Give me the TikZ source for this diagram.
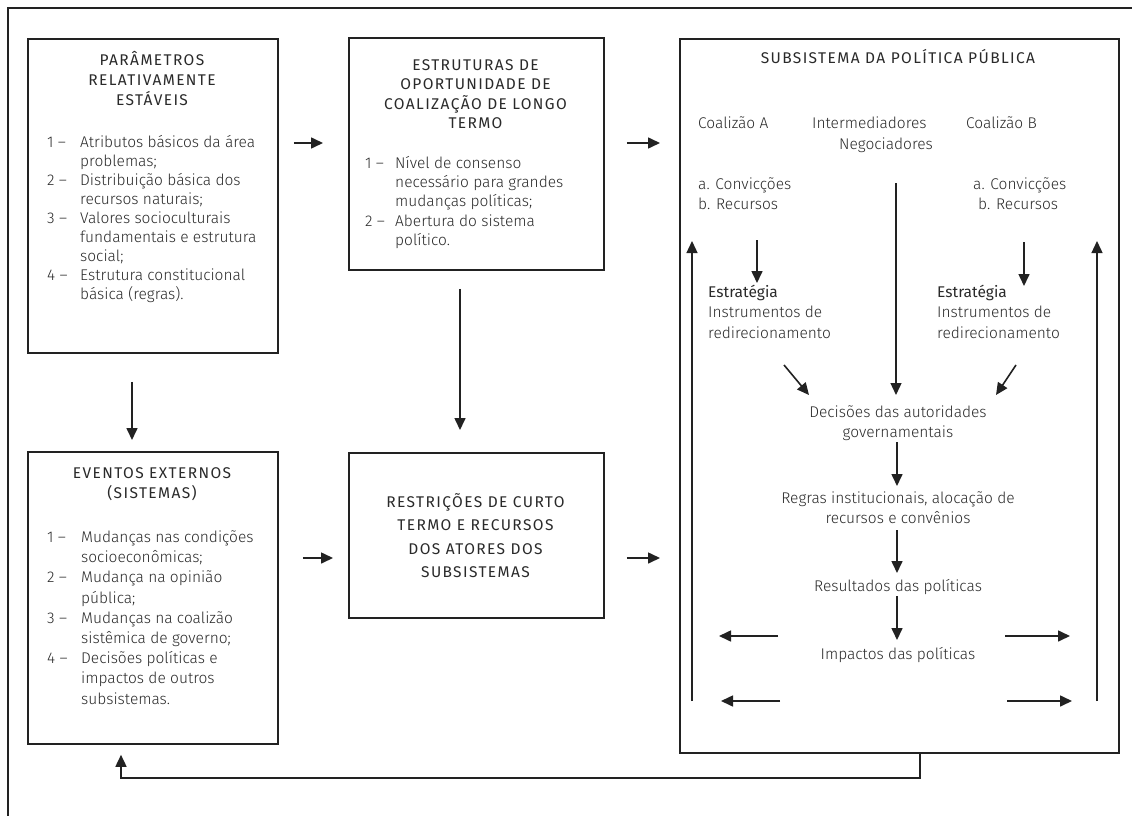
\documentclass[tikz,border=0pt]{standalone}
\usepackage{fontspec}
\usetikzlibrary{arrows.meta,calc}
\IfFontExistsTF{Fira Sans Book}{%
  \IfFontExistsTF{Fira Sans Medium}{\setmainfont{Fira Sans Book}[BoldFont={Fira Sans Medium}]}%
  {\setmainfont{Fira Sans Book}[BoldFont={Fira Sans}]}}%
{\IfFontExistsTF{Fira Sans Light}{\setmainfont{Fira Sans Light}[BoldFont={Fira Sans}]}{\setmainfont{Carlito}}}
\IfFontExistsTF{Fira Sans}{\newfontfamily\capfont{Fira Sans}[LetterSpace=9]}{\newfontfamily\capfont{Carlito}[LetterSpace=9]}
\definecolor{ink}{HTML}{222222}
\definecolor{txtc}{HTML}{2A2A2A}
\newcommand{\fb}[1]{\fontsize{15.5}{#1}\selectfont}
\newcommand{\fc}[1]{\capfont\fontsize{15.5}{#1}\selectfont}
\begin{document}
\begin{tikzpicture}[x=1pt,y=-1pt,
  box/.style={draw=ink, line width=1.8pt, inner sep=0pt, rectangle},
  arr/.style={draw=ink, line width=1.6pt, -{Triangle[length=12pt,width=11pt]}},
  frame/.style={draw=ink, line width=1.4pt},
  tx/.style={inner sep=0pt, text=txtc}]
\useasboundingbox (0,0) rectangle (1132,816);
\fill[white] (0,0) rectangle (1132,816);
\draw[frame] (1132,8) -- (8,8) -- (8,816);

% boxes
\node[box, minimum width=250pt, minimum height=314pt, anchor=north west] (b1) at (27,38) {};
\node[box, minimum width=255pt, minimum height=232pt, anchor=north west] (b2) at (348,37) {};
\node[box, minimum width=439pt, minimum height=714pt, anchor=north west] (b3) at (679,38) {};
\node[box, minimum width=250pt, minimum height=292pt, anchor=north west] (b4) at (27,451) {};
\node[box, minimum width=255pt, minimum height=165pt, anchor=north west] (b5) at (348,452) {};

% box 1
\node[tx, anchor=north] (t1) at (152,51.2) {\fc{20}\begin{tabular}{@{}c@{}}PARÂMETROS\\RELATIVAMENTE\\ESTÁVEIS\end{tabular}};
\node[tx, anchor=north west] (l1) at (47,133.9) {\fb{19}\begin{tabular}{@{}p{33pt}@{}l@{}}1 –&Atributos básicos da área\\&problemas;\\2 –&Distribuição básica dos\\&recursos naturais;\\3 –&Valores socioculturais\\&fundamentais e estrutura\\&social;\\4 –&Estrutura constitucional\\&básica (regras).\end{tabular}};

% box 2
\node[tx, anchor=north] (t2) at (475.5,56.9) {\fc{19}\begin{tabular}{@{}c@{}}ESTRUTURAS DE\\OPORTUNIDADE DE\\COALIZAÇÃO DE LONGO\\TERMO\end{tabular}};
\node[tx, anchor=north west] (l2) at (365,154.7) {\fb{19.25}\begin{tabular}{@{}p{30pt}@{}l@{}}1 –&Nível de consenso\\&necessário para grandes\\&mudanças políticas;\\2 –&Abertura do sistema\\&político.\end{tabular}};

% box 4
\node[tx, anchor=north] (t4) at (152,464.2) {\fc{20}\begin{tabular}{@{}c@{}}EVENTOS EXTERNOS\\(SISTEMAS)\end{tabular}};
\node[tx, anchor=north west] (l4) at (47,528.1) {\fb{20.2}\begin{tabular}{@{}p{34pt}@{}l@{}}1 –&Mudanças nas condições\\&socioeconômicas;\\2 –&Mudança na opinião\\&pública;\\3 –&Mudanças na coalizão\\&sistêmica de governo;\\4 –&Decisões políticas e\\&impactos de outros\\&subsistemas.\end{tabular}};

% box 5
\node[tx, anchor=north] (t5) at (475.5,490.9) {\fc{23.3}\begin{tabular}{@{}c@{}}RESTRIÇÕES DE CURTO\\TERMO E RECURSOS\\DOS ATORES DOS\\SUBSISTEMAS\end{tabular}};

% box 3
\node[tx, anchor=base] (t3) at (898,63.2) {\fc{20}SUBSISTEMA DA POLÍTICA PÚBLICA};
\node[tx, anchor=base west] (coalA) at (698,128) {\fb{20}Coalizão A};
\node[tx, anchor=base west] (inter) at (812,128) {\fb{20}Intermediadores};
\node[tx, anchor=base west] (nego) at (839,149) {\fb{20}Negociadores};
\node[tx, anchor=base west] (coalB) at (966,128) {\fb{20}Coalizão B};
\node[tx, anchor=north west] (convA) at (698,175.2) {\fb{20}\begin{tabular}{@{}l@{}}a. Convicções\\b. Recursos\end{tabular}};
\node[tx, anchor=base west] (convB) at (973,189) {\fb{20}a. Convicções};
\node[tx, anchor=base west] (recB) at (978,209) {\fb{20}b. Recursos};
\node[tx, anchor=north west] (estA) at (708,282.9) {\fb{20.5}\begin{tabular}{@{}l@{}}\textbf{Estratégia}\\Instrumentos de\\redirecionamento\end{tabular}};
\node[tx, anchor=north west] (estB) at (937,282.9) {\fb{20.5}\begin{tabular}{@{}l@{}}\textbf{Estratégia}\\Instrumentos de\\redirecionamento\end{tabular}};
\node[tx, anchor=north] (dec) at (898,403.2) {\fb{20}\begin{tabular}{@{}c@{}}Decisões das autoridades\\governamentais\end{tabular}};
\node[tx, anchor=north] (reg) at (898,489.2) {\fb{20}\begin{tabular}{@{}c@{}}Regras institucionais, alocação de\\recursos e convênios\end{tabular}};
\node[tx, anchor=base] (res) at (898,591) {\fb{20}Resultados das políticas};
\node[tx, anchor=base] (imp) at (898,659) {\fb{20}Impactos das políticas};

% helper coordinates
\coordinate (r1) at (0,143);
\coordinate (r2) at (0,558);
\coordinate (c1) at (132,0);
\coordinate (c2) at (460,0);
\coordinate (fb1) at (920,778);
\coordinate (fb2) at (121,778);

% box-to-box arrows
\draw[arr] ($(b1.east|-r1)+(15,0)$) -- ($(b2.west|-r1)+(-25,0)$);
\draw[arr] ($(b2.east|-r1)+(22,0)$) -- ($(b3.west|-r1)+(-19,0)$);
\draw[arr] ($(b4.east|-r2)+(24,0)$) -- ($(b5.west|-r2)+(-15,0)$);
\draw[arr] ($(b5.east|-r2)+(22,0)$) -- ($(b3.west|-r2)+(-19,0)$);
\draw[arr] ($(b1.south-|c1)+(0,28)$) -- ($(b4.north-|c1)+(0,-11)$);
\draw[arr] ($(b2.south-|c2)+(0,18)$) -- ($(b5.north-|c2)+(0,-22)$);
\draw[arr] (b3.south-|fb1) -- (fb1) -- (fb2) -- ($(b4.south-|fb2)+(0,10)$);

% arrows inside box 3
\coordinate (aA1) at (757,240); \coordinate (aA2) at (757,283);
\coordinate (aB1) at (1024,242); \coordinate (aB2) at (1024,286);
\coordinate (m1) at (896,183); \coordinate (m2) at (896,395);
\coordinate (dA1) at (784,365); \coordinate (dA2) at (809,395);
\coordinate (dB1) at (1016,365); \coordinate (dB2) at (996,395);
\coordinate (uL1) at (692,701); \coordinate (uL2) at (692,241);
\coordinate (uR1) at (1097,701); \coordinate (uR2) at (1097,241);
\coordinate (hL1a) at (778,636); \coordinate (hL1b) at (719,636);
\coordinate (hR1a) at (1005,636); \coordinate (hR1b) at (1070,636);
\coordinate (hL2a) at (780,701); \coordinate (hL2b) at (721,701);
\coordinate (hR2a) at (1007,701); \coordinate (hR2b) at (1072,701);
\coordinate (v1a) at (897,442); \coordinate (v1b) at (897,486);
\coordinate (v2a) at (897,530); \coordinate (v2b) at (897,573);
\coordinate (v3a) at (897,596); \coordinate (v3b) at (897,640);

\draw[arr] (aA1) -- (aA2);
\draw[arr] (aB1) -- (aB2);
\draw[arr, line width=1.3pt] (m1) -- (m2);
\draw[arr] (dA1) -- (dA2);
\draw[arr] (dB1) -- (dB2);
\draw[arr, line width=1.3pt] (uL1) -- (uL2);
\draw[arr, line width=1.3pt] (uR1) -- (uR2);
\draw[arr] (v1a) -- (v1b);
\draw[arr] (v2a) -- (v2b);
\draw[arr] (v3a) -- (v3b);
\draw[arr] (hL1a) -- (hL1b);
\draw[arr] (hR1a) -- (hR1b);
\draw[arr] (hL2a) -- (hL2b);
\draw[arr] (hR2a) -- (hR2b);
\end{tikzpicture}
\end{document}
